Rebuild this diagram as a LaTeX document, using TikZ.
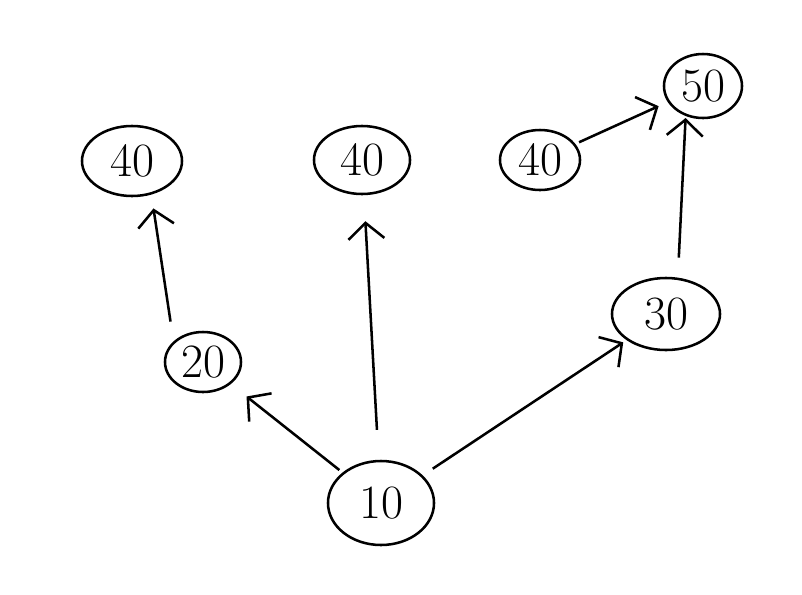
\documentclass[tikz,border=0pt]{standalone}
\usetikzlibrary{shapes.geometric,arrows.meta}
\begin{document}
\begin{tikzpicture}[
  x=0.025cm, y=-0.025cm,
  vert/.style={draw, ellipse, line width=1.8pt, inner sep=0pt, font=\fontsize{34}{34}\selectfont},
  arrow/.style={-{Straight Barb[length=0.4cm, width=0.9cm, line width=1.8pt]}, line width=1.8pt}
]
\useasboundingbox (0,0) rectangle (802,594);
\node[vert, minimum width=2.65cm, minimum height=2.1cm] (a) at (381,503) {10};
\node[vert, minimum width=1.9cm, minimum height=1.5cm] (b) at (203,362) {20};
\node[vert, minimum width=2.7cm, minimum height=1.8cm] (c) at (666,314) {30};
\node[vert, minimum width=2.5cm, minimum height=1.75cm] (d) at (132,161) {40};
\node[vert, minimum width=2.4cm, minimum height=1.7cm] (e) at (362,160) {40};
\node[vert, minimum width=2.0cm, minimum height=1.5cm] (f) at (540,160) {40};
\node[vert, minimum width=1.95cm, minimum height=1.6cm] (g) at (703,86) {50};
\draw[arrow, shorten <=0.1cm, shorten >=0.5cm] (a) -- (b);
\draw[arrow, shorten <=0.75cm, shorten >=0.65cm] (a) -- (e);
\draw[arrow, shorten <=0.3cm, shorten >=0.1cm] (a) -- (c);
\draw[arrow, shorten <=0.5cm, shorten >=0.35cm] (b.145) -- (d.-60);
\draw[arrow, shorten <=0.5cm, shorten >=0.05cm] (c.72) -- (g.-120);
\draw[arrow, shorten <=0.1cm, shorten >=0.25cm] (f) -- (g);
\end{tikzpicture}
\end{document}
